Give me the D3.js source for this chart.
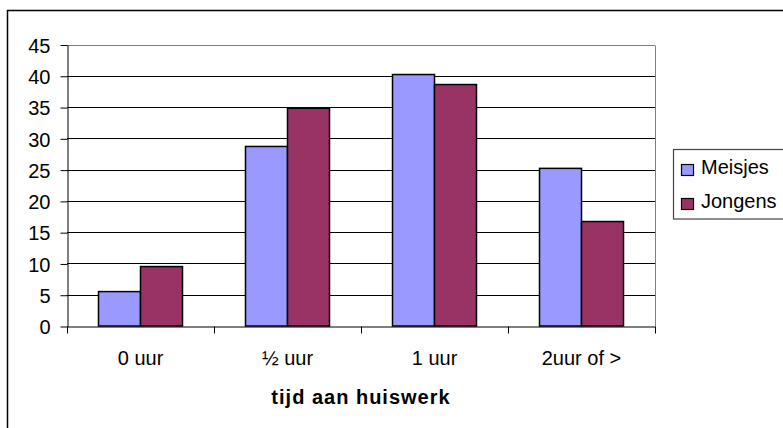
<!DOCTYPE html>
<html><head><meta charset="utf-8">
<script src="https://cdn.jsdelivr.net/npm/d3@7"></script>
<style>
html,body{margin:0;padding:0;background:#fff;overflow:hidden}
svg{display:block;font-family:"Liberation Sans",Arial,sans-serif}
</style></head>
<body><svg id="c" width="783" height="428"></svg>
<script>
const categories = ["0 uur", "½ uur", "1 uur", "2uur of >"];
const seriesNames = ["Meisjes", "Jongens"];
const meisjes = [5.5, 28.7, 40.2, 25.2];
const jongens = [9.5, 34.8, 38.6, 16.7];
const yTicks = [0, 5, 10, 15, 20, 25, 30, 35, 40, 45];
const colors = ["#9999FF", "#993366"];
const axisTitle = "tijd aan huiswerk";

const svg = d3.select("#c");
const W = 783, H = 428;
svg.append("rect").attr("width", W).attr("height", H).attr("fill", "#fff");
// outer chart border (cropped at right/bottom)
svg.append("rect").attr("x", 7.5).attr("y", 10.5).attr("width", 800).attr("height", 440)
  .attr("fill", "none").attr("stroke", "#000").attr("stroke-width", 1.5);

const L = 67, R = 655, T = 44.5, B = 326;
const x0 = d3.scaleBand().domain(categories).range([L, R]).paddingInner(0).paddingOuter(0);
const bw = x0.bandwidth() / 3.5;
const x1 = d3.scaleBand().domain(seriesNames).range([0, 2 * bw]);
const y = d3.scaleLinear().domain([0, 45]).range([B, T]);

const g = svg.append("g");
// gridlines
g.selectAll("line.grid").data(yTicks.filter(d => d > 0)).join("line")
  .attr("x1", L).attr("x2", R)
  .attr("y1", d => Math.round(y(d)) + 0.5).attr("y2", d => Math.round(y(d)) + 0.5)
  .attr("stroke", d => d === 45 ? "#808080" : "#000").attr("stroke-width", 1);
// plot area right border
g.append("line").attr("x1", R + 0.5).attr("x2", R + 0.5).attr("y1", Math.round(T) + 0.5).attr("y2", B)
  .attr("stroke", "#808080");

// bars
const data = categories.map((c, i) => ({c, vals: [meisjes[i], jongens[i]]}));
const grp = g.selectAll("g.cat").data(data).join("g")
  .attr("transform", d => `translate(${x0(d.c) + (x0.bandwidth() - 2 * bw) / 2},0)`);
grp.selectAll("rect").data(d => d.vals.map((v, k) => ({v, k}))).join("rect")
  .attr("x", d => x1(seriesNames[d.k]))
  .attr("width", bw)
  .attr("y", d => y(d.v))
  .attr("height", d => B - y(d.v))
  .attr("fill", d => colors[d.k])
  .attr("stroke", "#000").attr("stroke-width", 1.5);

// y axis
const yAxis = d3.axisLeft(y).tickValues(yTicks).tickSize(7).tickPadding(10).tickSizeOuter(0);
const ya = svg.append("g").attr("transform", `translate(${L + 0.5},0.5)`).call(yAxis);
ya.select(".domain").attr("stroke", "#000");
ya.selectAll(".tick line").attr("stroke", "#000");
ya.selectAll(".tick text").attr("font-size", 20).attr("fill", "#000")
  .attr("font-family", "Liberation Sans, Arial, sans-serif").attr("dy", "0.36em");

// x axis
const xAxis = d3.axisBottom(x0).tickSize(0).tickPadding(0);
const xa = svg.append("g").attr("transform", `translate(0,${B + 0.5})`).call(xAxis);
xa.select(".domain").attr("stroke", "#000");
xa.selectAll(".tick text").attr("font-size", 20).attr("fill", "#000")
  .attr("font-family", "Liberation Sans, Arial, sans-serif").attr("dy", null).attr("y", 38);
// tick marks between categories
xa.selectAll("line.sep").data(d3.range(categories.length + 1)).join("line")
  .attr("x1", i => Math.round(L + i * x0.bandwidth()) + 0.5)
  .attr("x2", i => Math.round(L + i * x0.bandwidth()) + 0.5)
  .attr("y1", 0).attr("y2", 7).attr("stroke", "#000");

// axis title
svg.append("text").attr("x", (L + R) / 2).attr("y", 404).attr("text-anchor", "middle")
  .attr("font-size", 20).attr("font-weight", "bold").attr("letter-spacing", 1)
  .text(axisTitle);

// legend
const lg = svg.append("g");
lg.append("rect").attr("x", 673.5).attr("y", 149.5).attr("width", 130).attr("height", 69.5)
  .attr("fill", "#fff").attr("stroke", "#444").attr("stroke-width", 1.2);
const items = lg.selectAll("g.it").data(seriesNames).join("g")
  .attr("transform", (d, i) => `translate(0,${i * 34})`);
items.append("rect").attr("x", 681.5).attr("y", 164.5).attr("width", 12).attr("height", 11)
  .attr("fill", (d, i) => colors[i]).attr("stroke", "#000").attr("stroke-width", 1.2);
items.append("text").attr("x", 701).attr("y", 173.5).attr("font-size", 20).text(d => d);
</script></body></html>
